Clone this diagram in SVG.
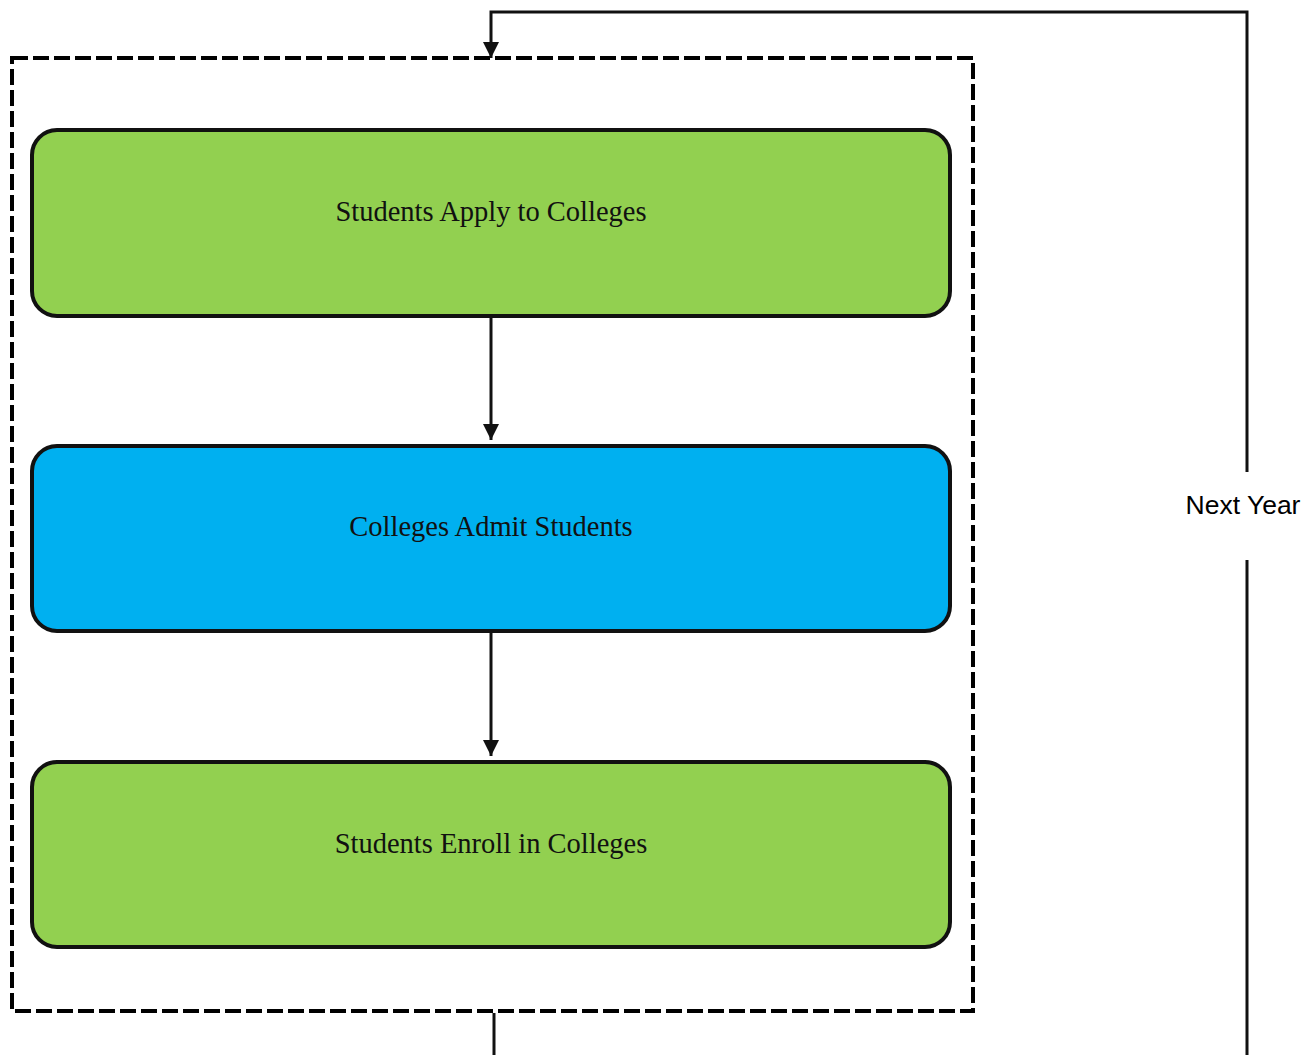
<svg xmlns="http://www.w3.org/2000/svg" width="1315" height="1055" viewBox="0 0 1315 1055">
<style>
.node{stroke:#111;stroke-width:4}
.green{fill:#92D050}
.blue{fill:#00B0F0}
.lbl{font-family:"Liberation Serif","Times New Roman",serif;font-size:28.5px;fill:#111;text-anchor:middle}
.conn{stroke:#111;stroke-width:3;fill:none}
.side{font-family:"Liberation Sans",Arial,sans-serif;font-size:26.5px;fill:#000;text-anchor:middle}
</style>
<defs>
<marker id="arr" viewBox="0 0 10 10" refX="10" refY="5" markerWidth="5.5" markerHeight="5.5" markerUnits="strokeWidth" orient="auto">
<path d="M0,0 L10,5 L0,10 z" fill="#111"/>
</marker>
</defs>
<rect width="1315" height="1055" fill="#fff"/>
<g id="container">
<rect x="12" y="58" width="961" height="953" fill="none" stroke="#000" stroke-width="4" stroke-dasharray="16,5"/>
</g>
<g id="connectors">
<line class="conn" x1="491" y1="318" x2="491" y2="440" marker-end="url(#arr)"/>
<line class="conn" x1="491" y1="633" x2="491" y2="756" marker-end="url(#arr)"/>
<polyline class="conn" points="1247,472 1247,12 491,12 491,58" marker-end="url(#arr)"/>
<polyline class="conn" points="494,1013 494,1055"/>
<polyline class="conn" points="1247,560 1247,1055"/>
</g>
<g id="node-apply">
<rect class="node green" x="32" y="130" width="918" height="186" rx="25"/>
<text class="lbl" x="491" y="221">Students Apply to Colleges</text>
</g>
<g id="node-admit">
<rect class="node blue" x="32" y="446" width="918" height="185" rx="25"/>
<text class="lbl" x="491" y="536">Colleges Admit Students</text>
</g>
<g id="node-enroll">
<rect class="node green" x="32" y="762" width="918" height="185" rx="25"/>
<text class="lbl" x="491" y="853">Students Enroll in Colleges</text>
</g>
<g id="label-next-year">
<text class="side" x="1243" y="514">Next Year</text>
</g>
</svg>
